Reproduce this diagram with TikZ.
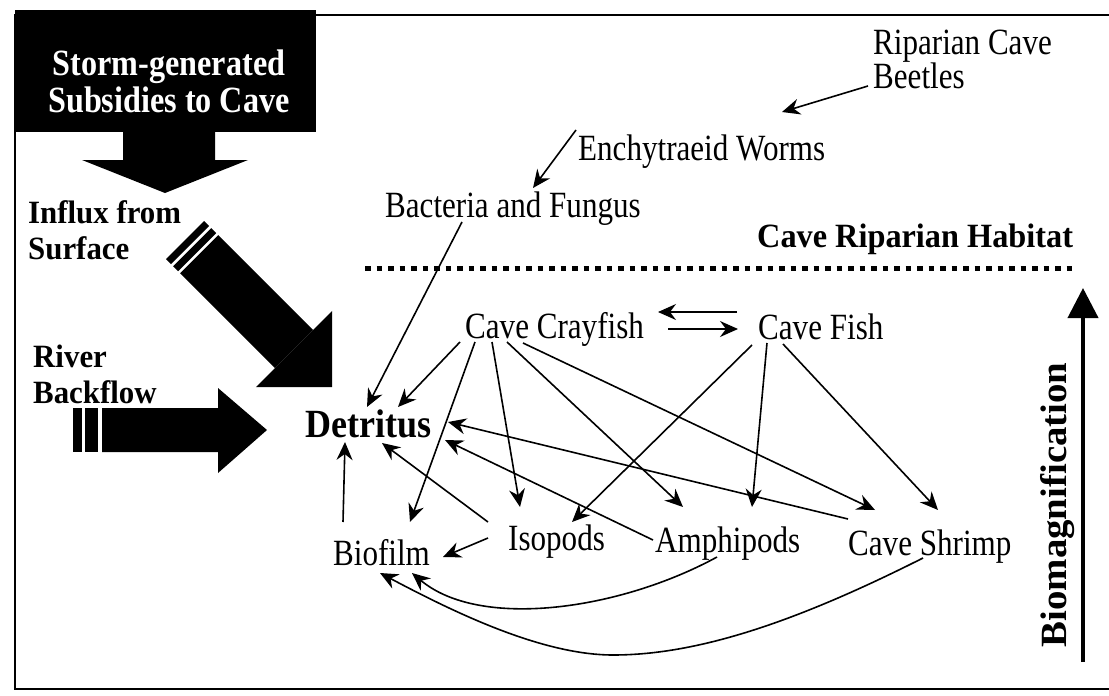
\documentclass[tikz,border=0pt]{standalone}
\usepackage{fontspec}
\setmainfont{Liberation Serif}
\newfontfamily\regf{Liberation Serif}[FakeStretch=0.84]
\newfontfamily\bldf{Liberation Serif}[FakeStretch=0.9]
\newfontfamily\bldg{Liberation Serif}[FakeStretch=0.87]
\newfontfamily\bldh{Liberation Serif}[FakeStretch=0.95]
\newfontfamily\bldk{Liberation Serif}[FakeStretch=1.05]
\usetikzlibrary{arrows.meta}
\begin{document}
\begin{tikzpicture}[x=1pt,y=-1pt,
  reg/.style={inner sep=0pt, font=\regf\fontsize{37}{34}\selectfont},
  lab/.style={reg, anchor=base west},
  conn/.style={line width=1.6pt, -{Stealth[length=18pt,width=16pt,inset=6pt]}},
  side/.style={inner sep=0pt, anchor=north west, align=left, font=\bldh\bfseries\fontsize{32.5}{36}\selectfont},
  boldlab/.style={inner sep=0pt, anchor=base west, font=\bldh\bfseries\fontsize{34}{34}\selectfont},
]
\useasboundingbox (0,0) rectangle (1109,696);
\fill[white] (0,0) rectangle (1109,696);
% frame
\draw[line width=1.5pt] (1109,15) -- (15,15) -- (15,689) -- (1109,689);
% storm box
\fill[black] (15,10) rectangle (316,132);
\node[inner sep=0pt, anchor=north, align=center, text=white,
      font=\bldg\bfseries\fontsize{37}{37}\selectfont] (storm) at (169,50) {Storm-generated\\Subsidies to Cave};
% down arrow
\fill[black] (123,131) -- (215,131) -- (215,160) -- (248,160) -- (165,193) -- (82,160) -- (123,160) -- cycle;
% side labels
\node[side] (influx) at (28,200) {Influx from\\Surface};
\node[side] (river) at (33,345) {River\\Backflow};
% diagonal big arrow
\begin{scope}[shift={(294,349)}, rotate=-45]
  \fill[black] (-134,-27) rectangle (0,27);
  \fill[black] (0,-54) -- (54,0) -- (0,54) -- cycle;
  \fill[black] (-154,-27) rectangle (-147,27);
  \fill[black] (-144,-27) rectangle (-137,27);
\end{scope}
% horizontal big arrow
\fill[black] (73,408) rectangle (82,452);
\fill[black] (85,408) rectangle (98,452);
\fill[black] (102,408) -- (218,408) -- (218,388) -- (267,430) -- (218,473) -- (218,452) -- (102,452) -- cycle;
% habitat
\node[boldlab] (hab) at (757,247) {Cave Riparian Habitat};
\draw[line width=5pt, dash pattern=on 5.5pt off 6pt] (365,268) -- (1073,268);
% biomagnification
\coordinate (bmlow) at (1083,662);
\coordinate (bmtop) at (1083,288);
\draw[line width=4pt, -{Triangle[length=30pt,width=30pt]}] (bmlow) -- (bmtop);
\node[rotate=90, inner sep=0pt, font=\bldk\bfseries\fontsize{37}{37}\selectfont] (bm) at (1058,505) {Biomagnification};
% labels
\node[reg, anchor=north west, align=left] (beetles) at (873,30) {Riparian Cave\\Beetles};
\node[lab] (worms) at (578,160) {Enchytraeid Worms};
\node[lab] (bact) at (385,217) {Bacteria and Fungus};
\node[lab] (cray) at (465,338) {Cave Crayfish};
\node[lab] (fish) at (758,339) {Cave Fish};
\node[inner sep=0pt, anchor=base west, font=\bldf\bfseries\fontsize{40}{40}\selectfont] (det) at (305,437) {Detritus};
\node[lab] (bio) at (333,565) {Biofilm};
\node[lab] (iso) at (508,550) {Isopods};
\node[lab] (amph) at (655,552) {Amphipods};
\node[lab] (shrimp) at (848,555) {Cave Shrimp};
% connectors
\draw[conn] ([shift={(-5,56)}]beetles.north west) -- ([shift={(204,-48)}]worms.base west);
\draw[conn] ([shift={(-2,-30)}]worms.base west) -- ([shift={(148,-29)}]bact.base west);
\draw[conn] ([shift={(77,5)}]bact.base west) -- ([shift={(62,-30)}]det.base west);
\draw[conn] ([shift={(203,-9)}]cray.base west) -- ([shift={(-20,-10)}]fish.base west);
\draw[conn] ([shift={(-21,-27)}]fish.base west) -- ([shift={(193,-26)}]cray.base west);
\draw[conn] ([shift={(-5,4)}]cray.base west) -- ([shift={(93,-30)}]det.base west);
\draw[conn] ([shift={(10,4)}]cray.base west) -- ([shift={(77,-43)}]bio.base west);
\draw[conn] ([shift={(27,4)}]cray.base west) -- ([shift={(12,-43)}]iso.base west);
\draw[conn] ([shift={(42,4)}]cray.base west) -- ([shift={(28,-45)}]amph.base west);
\draw[conn] ([shift={(58,5)}]cray.base west) -- ([shift={(27,-45)}]shrimp.base west);
\draw[conn] ([shift={(-6,6)}]fish.base west) -- ([shift={(64,-28)}]iso.base west);
\draw[conn] ([shift={(9,4)}]fish.base west) -- ([shift={(97,-45)}]amph.base west);
\draw[conn] ([shift={(25,5)}]fish.base west) -- ([shift={(90,-45)}]shrimp.base west);
\draw[conn] ([shift={(0,-36)}]shrimp.base west) -- ([shift={(143,-15)}]det.base west);
\draw[conn] ([shift={(-2,-12)}]amph.base west) -- ([shift={(140,3)}]det.base west);
\draw[conn] ([shift={(-20,-28)}]iso.base west) -- ([shift={(77,6)}]det.base west);
\draw[conn] ([shift={(-20,-12)}]iso.base west) -- ([shift={(110,-8)}]bio.base west);
\draw[conn] ([shift={(10,-43)}]bio.base west) -- ([shift={(40,5)}]det.base west);
\draw[conn] ([shift={(62,5)}]amph.base west) .. controls (620,610) and (480,630) .. ([shift={(79,8)}]bio.base west);
\draw[conn] ([shift={(75,3)}]shrimp.base west) .. controls (800,620) and (700,655) .. (613,655)
   .. controls (540,655) and (450,610) .. ([shift={(47,8)}]bio.base west);
\end{tikzpicture}
\end{document}
